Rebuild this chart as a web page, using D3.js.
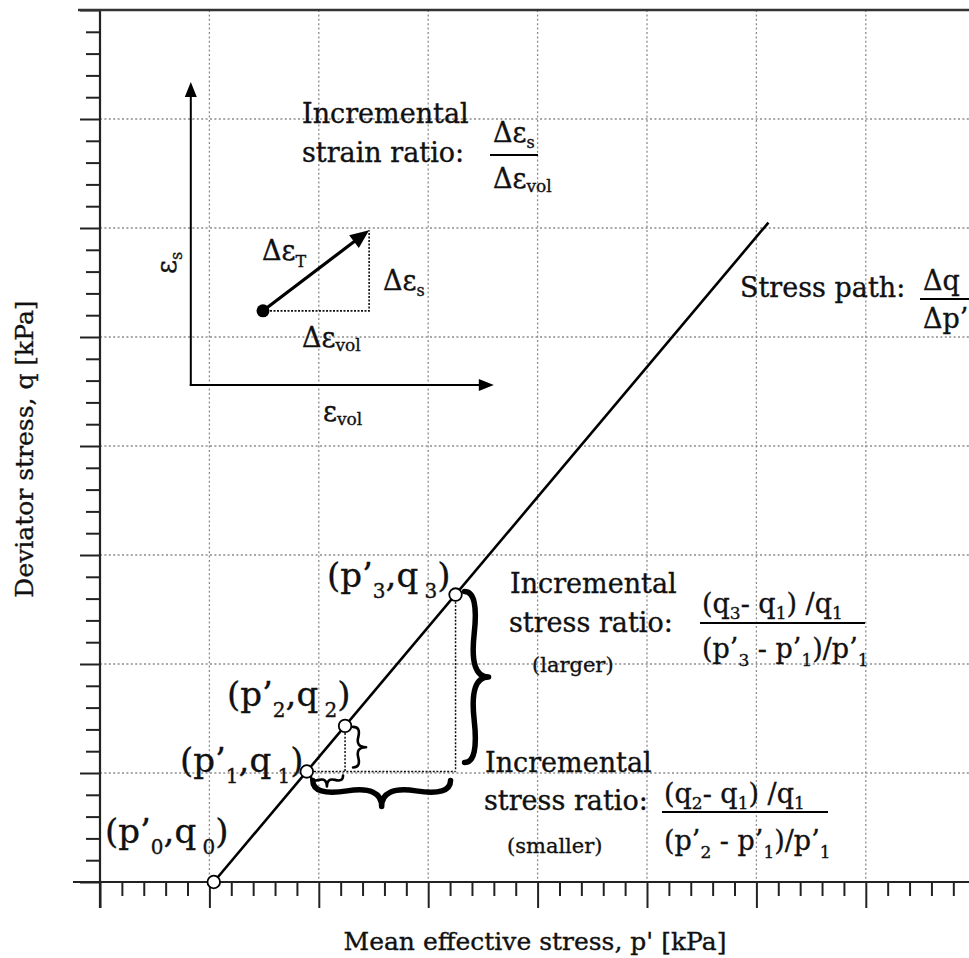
<!DOCTYPE html>
<html>
<head>
<meta charset="utf-8">
<script src="https://cdn.jsdelivr.net/npm/d3@7"></script>
<style>
  body { margin: 0; background: #fff; }
  text { font-family: 'DejaVu Serif', serif; fill: #111; stroke: #111; stroke-width: 0.35; white-space: pre; }
</style>
</head>
<body>
<svg id="chart" width="969" height="958"></svg>
<script>
// ---- axis ticks (no numeric labels on this schematic) ----
const pMajor = [0, 1, 2, 3, 4, 5, 6, 7, 8];
const qMajor = [0, 1, 2, 3, 4, 5, 6, 7, 8];
const minorPerMajor = 5;

// ---- stress states along the path (p' , q) ----
const stateP = [1.04, 1.89, 2.24, 3.25];
const stateQ = [0.00, 1.014, 1.432, 2.637];
const pathEndP = 6.11;
const pathEndQ = 6.05;

// ---- schematic strain axes (inset), in the same p'/q units ----
const insetOrigin = [0.83, 4.56];
const insetAxisTip = [3.6, 7.34];      // [horizontal tip p, vertical tip q]
const incStart = [1.49, 5.24];
const incEnd = [2.46, 5.98];

const svg = d3.select('#chart');
const W = 969, H = 958;
const x = d3.scaleLinear().domain([0, 8]).range([100, 100 + 8 * 109.4]);
const y = d3.scaleLinear().domain([0, 8]).range([882, 10]);

const minorP = d3.range(0, 8 * minorPerMajor + 1).map(i => i / minorPerMajor).filter(v => v % 1 !== 0);
const minorQ = minorP.slice();

// ---- grid ----
const grid = svg.append('g').attr('stroke', '#8c8c8c').attr('stroke-width', 1.3).attr('stroke-dasharray', '2,2.4');
grid.selectAll('.gv').data(pMajor.filter(v => v > 0)).join('line')
  .attr('x1', d => x(d)).attr('x2', d => x(d)).attr('y1', y(8)).attr('y2', y(0));
grid.selectAll('.gh').data(qMajor.filter(v => v > 0 && v < 8)).join('line')
  .attr('y1', d => y(d)).attr('y2', d => y(d)).attr('x1', x(0)).attr('x2', W);

// ---- axes ----
const axisColor = '#222';
const xMajorAxis = d3.axisBottom(x).tickValues(pMajor).tickSize(26).tickFormat('');
const xMinorAxis = d3.axisBottom(x).tickValues(minorP).tickSize(14).tickFormat('');
const yMajorAxis = d3.axisLeft(y).tickValues(qMajor).tickSize(20).tickFormat('');
const yMinorAxis = d3.axisLeft(y).tickValues(minorQ).tickSize(14).tickFormat('');

function styleAxis(g) {
  g.select('.domain').remove();
  g.selectAll('.tick line').attr('stroke', axisColor).attr('stroke-width', 2);
}
svg.append('g').attr('transform', `translate(0,${y(0)})`).call(xMajorAxis).call(styleAxis);
svg.append('g').attr('transform', `translate(0,${y(0)})`).call(xMinorAxis).call(styleAxis);
svg.append('g').attr('transform', `translate(${x(0)},0)`).call(yMajorAxis).call(styleAxis);
svg.append('g').attr('transform', `translate(${x(0)},0)`).call(yMinorAxis).call(styleAxis);

// axis lines and top frame
svg.append('line').attr('x1', 73).attr('x2', W).attr('y1', y(0)).attr('y2', y(0))
  .attr('stroke', axisColor).attr('stroke-width', 2.2);
svg.append('line').attr('x1', x(0)).attr('x2', x(0)).attr('y1', y(8)).attr('y2', y(0) + 26)
  .attr('stroke', axisColor).attr('stroke-width', 2.2);
svg.append('line').attr('x1', 78).attr('x2', W).attr('y1', y(8)).attr('y2', y(8))
  .attr('stroke', '#333').attr('stroke-width', 2.6);

// axis titles
svg.append('text').attr('x', 535).attr('y', 950).attr('text-anchor', 'middle')
  .attr('font-size', 25).text("Mean effective stress, p' [kPa]");
svg.append('text').attr('transform', 'translate(33,449) rotate(-90)').attr('text-anchor', 'middle')
  .attr('font-size', 25).text('Deviator stress, q [kPa]');

// ---- rich text helper (normal / subscript runs) ----
function rich(g, px, py, parts, size, subSize, subShift, rotate) {
  const t = g.append('text').attr('font-size', size);
  if (rotate) t.attr('transform', `translate(${px},${py}) rotate(${rotate})`).attr('x', 0).attr('y', 0);
  else t.attr('x', px).attr('y', py);
  let cur = 0;
  parts.forEach(p => {
    const isSub = Array.isArray(p);
    const s = isSub ? p[0] : p;
    const off = isSub ? subShift : 0;
    t.append('tspan').attr('dy', off - cur).attr('font-size', isSub ? subSize : size).text(s);
    cur = off;
  });
  return t;
}

// ---- projection lines (dense dotted) ----
const proj = svg.append('g').attr('stroke', '#111').attr('stroke-width', 1.5).attr('stroke-dasharray', '2,1.6').attr('fill', 'none');
proj.append('line').attr('x1', x(stateP[1])).attr('y1', y(stateQ[1])).attr('x2', x(stateP[3])).attr('y2', y(stateQ[1]));
proj.append('line').attr('x1', x(stateP[3])).attr('y1', y(stateQ[3])).attr('x2', x(stateP[3])).attr('y2', y(stateQ[1]));
proj.append('line').attr('x1', x(stateP[2])).attr('y1', y(stateQ[2])).attr('x2', x(stateP[2])).attr('y2', y(stateQ[1]));

// ---- stress path ----
svg.append('line')
  .attr('x1', x(stateP[0])).attr('y1', y(stateQ[0]))
  .attr('x2', x(pathEndP)).attr('y2', y(pathEndQ))
  .attr('stroke', '#000').attr('stroke-width', 2.6);

// ---- curly braces ----
function bracePath(x1, y1, x2, y2, w, q) {
  let dx = x1 - x2, dy = y1 - y2;
  const len = Math.hypot(dx, dy);
  dx /= len; dy /= len;
  const qx1 = x1 + q * w * dy, qy1 = y1 - q * w * dx;
  const qx2 = (x1 - 0.25 * len * dx) + (1 - q) * w * dy, qy2 = (y1 - 0.25 * len * dy) - (1 - q) * w * dx;
  const tx1 = (x1 - 0.5 * len * dx) + w * dy, ty1 = (y1 - 0.5 * len * dy) - w * dx;
  const qx3 = x2 + q * w * dy, qy3 = y2 - q * w * dx;
  const qx4 = (x1 - 0.75 * len * dx) + (1 - q) * w * dy, qy4 = (y1 - 0.75 * len * dy) - (1 - q) * w * dx;
  return `M${x1},${y1}Q${qx1},${qy1} ${qx2},${qy2}T${tx1},${ty1}M${x2},${y2}Q${qx3},${qy3} ${qx4},${qy4}T${tx1},${ty1}`;
}
const braces = svg.append('g').attr('fill', 'none').attr('stroke', '#000').attr('stroke-linecap', 'round');
// large vertical brace: q1 -> q3
braces.append('path').attr('stroke-width', 5.5)
  .attr('d', bracePath(x(stateP[3]) + 9, y(stateQ[1]) - 9, x(stateP[3]) + 9, y(stateQ[3]) - 3, 24, 0.6));
// large horizontal brace: p1 -> p3
braces.append('path').attr('stroke-width', 5.5)
  .attr('d', bracePath(x(stateP[1]) + 6, y(stateQ[1]) + 9, x(stateP[3]) - 5, y(stateQ[1]) + 9, 26, 0.6));
// small vertical brace: q1 -> q2
braces.append('path').attr('stroke-width', 2.6)
  .attr('d', bracePath(x(stateP[2]) + 8, y(stateQ[1]) - 4, x(stateP[2]) + 8, y(stateQ[2]) + 1, 13, 0.6));
// small horizontal brace: p1 -> p2
braces.append('path').attr('stroke-width', 2.6)
  .attr('d', bracePath(x(stateP[1]) + 4, y(stateQ[1]) + 4, x(stateP[2]) - 2, y(stateQ[1]) + 4, 11, 0.6));

// ---- state markers ----
svg.append('g').selectAll('circle').data(stateP.map((p, i) => [p, stateQ[i]])).join('circle')
  .attr('cx', d => x(d[0])).attr('cy', d => y(d[1])).attr('r', 6.3)
  .attr('fill', '#fff').attr('stroke', '#000').attr('stroke-width', 1.8);

// ---- state labels ----
const labels = svg.append('g');
rich(labels, 105, 843, ['(p’', ['0'], ',q', [' 0'], ')'], 34, 20, 11);
rich(labels, 180, 772, ['(p’', ['1'], ',q', [' 1'], ')'], 34, 20, 11);
rich(labels, 227, 706, ['(p’', ['2'], ',q', [' 2'], ')'], 34, 20, 11);
rich(labels, 327, 587, ['(p’', ['3'], ',q', [' 3'], ')'], 34, 20, 11);

// ---- inset: strain axes ----
function arrowHead(g, x0, y0, x1, y1, len, half) {
  const a = Math.atan2(y1 - y0, x1 - x0);
  const bx = x1 - len * Math.cos(a), by = y1 - len * Math.sin(a);
  const nx = -Math.sin(a) * half, ny = Math.cos(a) * half;
  g.append('path').attr('d', `M${x1},${y1}L${bx + nx},${by + ny}L${bx - nx},${by - ny}Z`).attr('fill', '#000');
  return [bx + 2 * Math.cos(a), by + 2 * Math.sin(a)];
}
const inset = svg.append('g');
const ox = x(insetOrigin[0]), oy = y(insetOrigin[1]);
const vTip = y(insetAxisTip[1]), hTip = x(insetAxisTip[0]);
let e = arrowHead(inset, ox, oy, ox, vTip, 15, 6);
inset.append('line').attr('x1', ox).attr('y1', oy + 1).attr('x2', ox).attr('y2', e[1]).attr('stroke', '#000').attr('stroke-width', 2);
e = arrowHead(inset, ox, oy, hTip, oy, 15, 6);
inset.append('line').attr('x1', ox - 1).attr('y1', oy).attr('x2', e[0]).attr('y2', oy).attr('stroke', '#000').attr('stroke-width', 2);

// increment triangle
const sx = x(incStart[0]), sy = y(incStart[1]), ex = x(incEnd[0]), ey = y(incEnd[1]);
inset.append('path').attr('d', `M${sx},${sy}H${ex}V${ey}`).attr('fill', 'none')
  .attr('stroke', '#111').attr('stroke-width', 1.6).attr('stroke-dasharray', '2,1.5');
e = arrowHead(inset, sx, sy, ex, ey, 19, 8);
inset.append('line').attr('x1', sx).attr('y1', sy).attr('x2', e[0]).attr('y2', e[1]).attr('stroke', '#000').attr('stroke-width', 3.2);
inset.append('circle').attr('cx', sx).attr('cy', sy).attr('r', 6.5).attr('fill', '#000');

// inset labels
rich(inset, 262, 260, ['Δε', ['T']], 27, 16, 7);
rich(inset, 383, 290, ['Δε', ['s']], 27, 16, 6);
rich(inset, 302, 347, ['Δε', ['vol']], 27, 17, 4);
rich(inset, 323, 421, ['ε', ['vol']], 27, 17, 4);
rich(inset, 176, 274, ['ε', ['s']], 27, 16, 6, -90);

// ---- strain ratio annotation ----
const ann = svg.append('g');
ann.append('text').attr('x', 302).attr('y', 123).attr('font-size', 27).text('Incremental');
ann.append('text').attr('x', 302).attr('y', 162).attr('font-size', 27).text('strain ratio:');
rich(ann, 493, 142, ['Δε', ['s']], 27, 16, 6);
ann.append('line').attr('x1', 490).attr('x2', 538).attr('y1', 155).attr('y2', 155).attr('stroke', '#000').attr('stroke-width', 2);
rich(ann, 493, 188, ['Δε', ['vol']], 27, 17, 4);

// ---- stress path annotation ----
ann.append('text').attr('x', 740).attr('y', 297).attr('font-size', 27).text('Stress path:');
ann.append('text').attr('x', 923).attr('y', 290).attr('font-size', 27).text('Δq');
ann.append('line').attr('x1', 920).attr('x2', W).attr('y1', 299).attr('y2', 299).attr('stroke', '#000').attr('stroke-width', 2);
ann.append('text').attr('x', 923).attr('y', 328).attr('font-size', 27).text('Δp’');

// ---- incremental stress ratio (larger) ----
ann.append('text').attr('x', 510).attr('y', 593).attr('font-size', 27).text('Incremental');
ann.append('text').attr('x', 509).attr('y', 632).attr('font-size', 27).text('stress ratio:');
ann.append('text').attr('x', 532).attr('y', 672).attr('font-size', 21).text('(larger)');
rich(ann, 702, 613, ['(q', ['3'], '- q', ['1'], ') /q', ['1']], 27, 17, 6);
ann.append('line').attr('x1', 700).attr('x2', 865).attr('y1', 623).attr('y2', 623).attr('stroke', '#000').attr('stroke-width', 2);
rich(ann, 702, 658, ['(p’', ['3'], ' - p’', ['1'], ')/p’', ['1']], 27, 17, 8);

// ---- incremental stress ratio (smaller) ----
ann.append('text').attr('x', 485).attr('y', 772).attr('font-size', 27).text('Incremental');
ann.append('text').attr('x', 484).attr('y', 810).attr('font-size', 27).text('stress ratio:');
ann.append('text').attr('x', 507).attr('y', 853).attr('font-size', 21).text('(smaller)');
rich(ann, 664, 803, ['(q', ['2'], '- q', ['1'], ') /q', ['1']], 27, 17, 6);
ann.append('line').attr('x1', 662).attr('x2', 828).attr('y1', 812).attr('y2', 812).attr('stroke', '#000').attr('stroke-width', 2);
rich(ann, 664, 850, ['(p’', ['2'], ' - p’', ['1'], ')/p’', ['1']], 27, 17, 8);
</script>
</body>
</html>
